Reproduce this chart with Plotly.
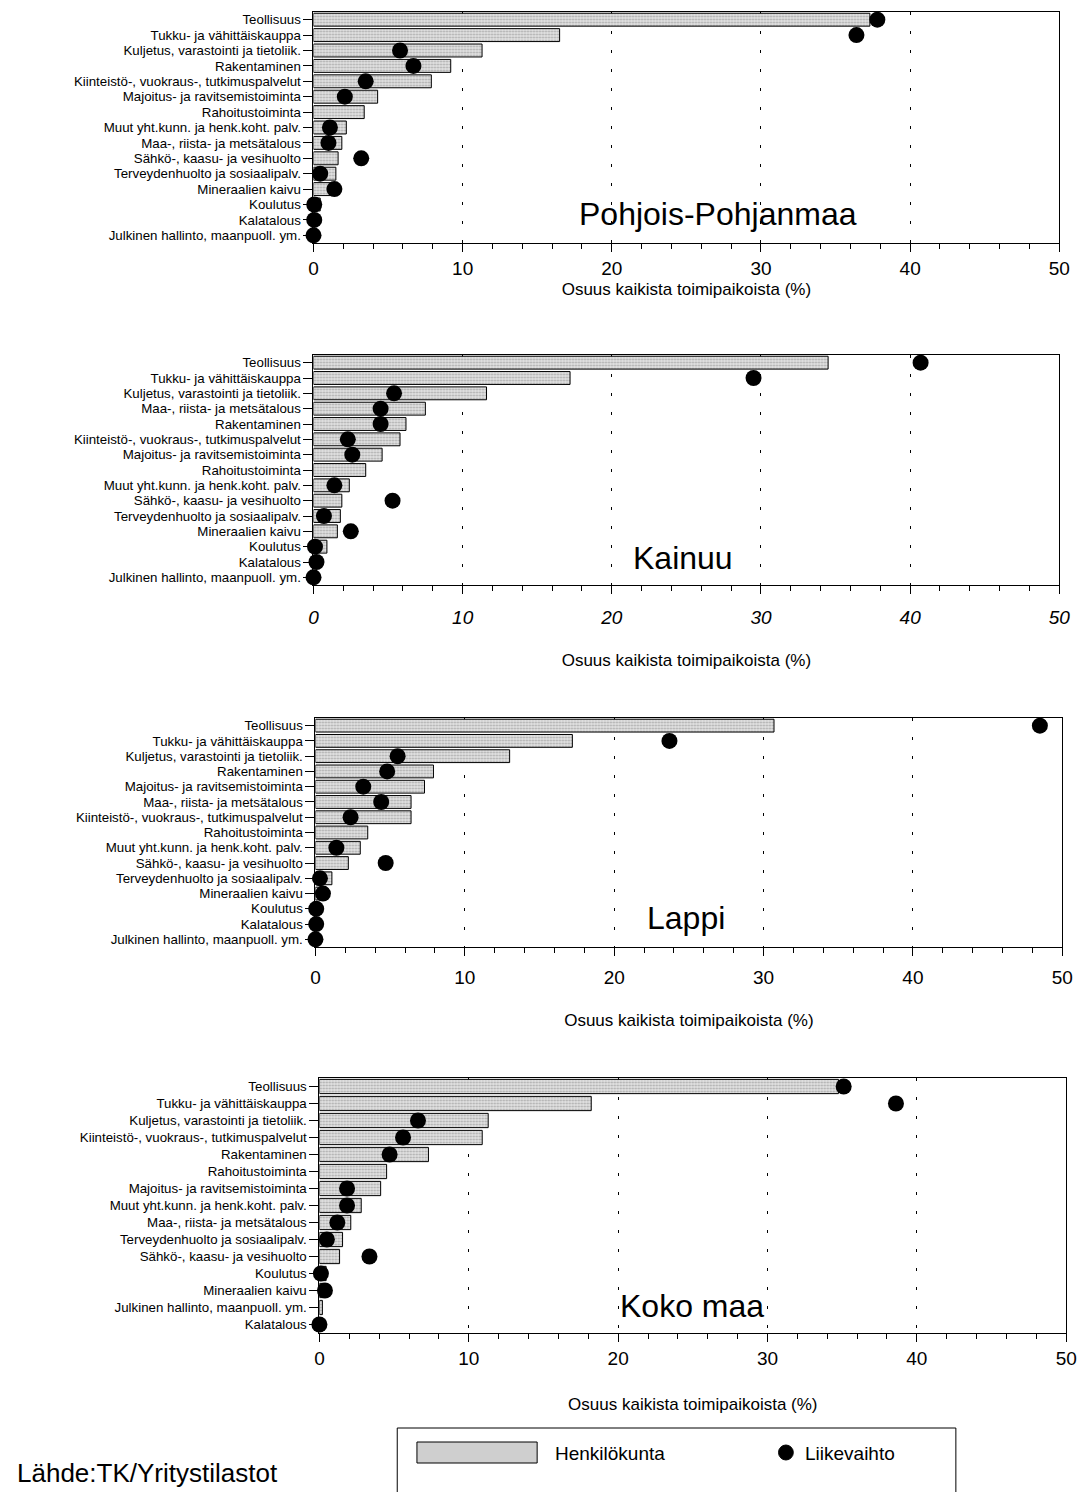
import plotly.graph_objects as go

W, H = 1092, 1492
OFF = 8  # browser body margin around the plot div

# --- data (share of all establishments, %) ---
regions = ["Pohjois-Pohjanmaa", "Kainuu", "Lappi", "Koko maa"]

cats_pp = ["Teollisuus", "Tukku- ja vähittäiskauppa", "Kuljetus, varastointi ja tietoliik.",
           "Rakentaminen", "Kiinteistö-, vuokraus-, tutkimuspalvelut", "Majoitus- ja ravitsemistoiminta",
           "Rahoitustoiminta", "Muut yht.kunn. ja henk.koht. palv.", "Maa-, riista- ja metsätalous",
           "Sähkö-, kaasu- ja vesihuolto", "Terveydenhuolto ja sosiaalipalv.", "Mineraalien kaivu",
           "Koulutus", "Kalatalous", "Julkinen hallinto, maanpuoll. ym."]
henk_pp = [37.3, 16.5, 11.3, 9.2, 7.9, 4.3, 3.4, 2.2, 1.9, 1.65, 1.5, 1.3, 0.45, 0.1, 0.05]
liike_pp = [37.8, 36.4, 5.8, 6.7, 3.5, 2.1, None, 1.1, 1.0, 3.2, 0.45, 1.4, 0.05, 0.05, 0.0]

cats_ka = ["Teollisuus", "Tukku- ja vähittäiskauppa", "Kuljetus, varastointi ja tietoliik.",
           "Maa-, riista- ja metsätalous", "Rakentaminen", "Kiinteistö-, vuokraus-, tutkimuspalvelut",
           "Majoitus- ja ravitsemistoiminta", "Rahoitustoiminta", "Muut yht.kunn. ja henk.koht. palv.",
           "Sähkö-, kaasu- ja vesihuolto", "Terveydenhuolto ja sosiaalipalv.", "Mineraalien kaivu",
           "Koulutus", "Kalatalous", "Julkinen hallinto, maanpuoll. ym."]
henk_ka = [34.5, 17.2, 11.6, 7.5, 6.2, 5.8, 4.6, 3.5, 2.4, 1.9, 1.8, 1.6, 0.9, 0.1, 0.05]
liike_ka = [40.7, 29.5, 5.4, 4.5, 4.5, 2.3, 2.6, None, 1.4, 5.3, 0.7, 2.5, 0.1, 0.2, 0.0]

cats_la = ["Teollisuus", "Tukku- ja vähittäiskauppa", "Kuljetus, varastointi ja tietoliik.",
           "Rakentaminen", "Majoitus- ja ravitsemistoiminta", "Maa-, riista- ja metsätalous",
           "Kiinteistö-, vuokraus-, tutkimuspalvelut", "Rahoitustoiminta", "Muut yht.kunn. ja henk.koht. palv.",
           "Sähkö-, kaasu- ja vesihuolto", "Terveydenhuolto ja sosiaalipalv.", "Mineraalien kaivu",
           "Koulutus", "Kalatalous", "Julkinen hallinto, maanpuoll. ym."]
henk_la = [30.7, 17.2, 13.0, 7.9, 7.3, 6.4, 6.4, 3.5, 3.0, 2.2, 1.1, 0.6, 0.1, 0.05, 0.05]
liike_la = [48.5, 23.7, 5.5, 4.8, 3.2, 4.4, 2.35, None, 1.4, 4.7, 0.3, 0.5, 0.05, 0.05, 0.0]

cats_km = ["Teollisuus", "Tukku- ja vähittäiskauppa", "Kuljetus, varastointi ja tietoliik.",
           "Kiinteistö-, vuokraus-, tutkimuspalvelut", "Rakentaminen", "Rahoitustoiminta",
           "Majoitus- ja ravitsemistoiminta", "Muut yht.kunn. ja henk.koht. palv.", "Maa-, riista- ja metsätalous",
           "Terveydenhuolto ja sosiaalipalv.", "Sähkö-, kaasu- ja vesihuolto", "Koulutus",
           "Mineraalien kaivu", "Julkinen hallinto, maanpuoll. ym.", "Kalatalous"]
henk_km = [34.75, 18.2, 11.3, 10.9, 7.3, 4.5, 4.1, 2.8, 2.1, 1.55, 1.35, 0.45, 0.3, 0.2, 0.05]
liike_km = [35.1, 38.6, 6.6, 5.6, 4.7, None, 1.85, 1.85, 1.2, 0.5, 3.35, 0.1, 0.37, None, 0.0]

x_ticks = [0, 10, 20, 30, 40, 50]
x_title = "Osuus kaikista toimipaikoista (%)"

panels = [(cats_pp, henk_pp, liike_pp), (cats_ka, henk_ka, liike_ka),
          (cats_la, henk_la, liike_la), (cats_km, henk_km, liike_km)]

# plot-area boxes in page pixels: (left, right, top, bottom)
boxes = [(313, 1070, 12, 243), (313, 1070, 355, 585), (315, 1073, 718, 947), (319, 1077, 1078, 1333)]
name_pos = [(724, 214), (688, 558), (691, 918), (697, 1306)]
label_standoff = [0, 7, 5, 0]
title_standoff = [5, 27, 27, 30]
tick_style = ["normal", "italic", "normal", "normal"]

FW, FH = W - OFF, H - OFF


def fx(px):
    return (px - OFF) / FW


def fy(py):
    return 1 - (py - OFF) / FH


FONT = "Liberation Sans, Arial, sans-serif"

fig = go.Figure()

for i, (cats, henk, liike) in enumerate(panels):
    n = "" if i == 0 else str(i + 1)
    fig.add_trace(go.Bar(
        y=cats, x=henk, orientation="h", width=0.84,
        marker=dict(color="#d6d6d6", line=dict(color="black", width=1),
                    pattern=dict(shape=".", fgcolor="#707070", bgcolor="#e2e2e2", size=3, solidity=0.35)),
        xaxis="x" + n, yaxis="y" + n, showlegend=False,
    ))
    fig.add_trace(go.Scatter(
        y=cats, x=liike, mode="markers",
        marker=dict(color="black", size=16),
        cliponaxis=False, xaxis="x" + n, yaxis="y" + n, showlegend=False,
    ))

    l, r, t, b = boxes[i]
    fig.update_layout(**{
        "xaxis" + n: dict(
            domain=[fx(l), fx(r)], anchor="y" + n, range=[0, 50],
            tickvals=x_ticks, ticks="outside", ticklen=8, tickwidth=1, tickcolor="black",
            ticklabelstandoff=label_standoff[i],
            minor=dict(dtick=2, ticks="outside", ticklen=5, tickcolor="black", showgrid=False),
            showline=True, linecolor="black", linewidth=1, mirror=True,
            showgrid=True, gridcolor="black", gridwidth=1, griddash="3px,16px",
            zeroline=False,
            tickfont=dict(size=19, family=FONT, color="black", style=tick_style[i]),
            title=dict(text=x_title, font=dict(size=17, family=FONT, color="black"),
                       standoff=title_standoff[i]),
        ),
        "yaxis" + n: dict(
            domain=[fy(b), fy(t)], anchor="x" + n,
            categoryorder="array", categoryarray=cats,
            range=[len(cats) - 0.5, -0.5],
            tickmode="array", tickvals=cats,
            ticks="outside", ticklen=9, tickcolor="black",
            showline=True, linecolor="black", linewidth=1, mirror=True,
            showgrid=False, tickfont=dict(size=13.3, family=FONT, color="black"),
        ),
    })
    fig.add_annotation(x=fx(name_pos[i][0]), y=fy(name_pos[i][1]), xref="paper", yref="paper",
                       xanchor="center", yanchor="middle",
                       text=regions[i], showarrow=False,
                       font=dict(size=32, family=FONT, color="black"))

# hand-drawn legend box (as in the source figure)
fig.add_shape(type="rect", xref="paper", yref="paper",
              x0=fx(398), x1=fx(965), y0=fy(1500), y1=fy(1428),
              line=dict(color="black", width=1), fillcolor="white")
fig.add_shape(type="rect", xref="paper", yref="paper",
              x0=fx(418), x1=fx(540), y0=fy(1463), y1=fy(1442),
              line=dict(color="black", width=1), fillcolor="#cfcfcf")
fig.add_shape(type="circle", xref="paper", yref="paper",
              x0=fx(785), x1=fx(800), y0=fy(1460), y1=fy(1445),
              line=dict(color="black", width=1), fillcolor="black")
fig.add_annotation(x=fx(556), y=fy(1453), xref="paper", yref="paper", xanchor="left", yanchor="middle",
                   text="Henkilökunta", showarrow=False,
                   font=dict(size=19, family=FONT, color="black"))
fig.add_annotation(x=fx(810), y=fy(1453), xref="paper", yref="paper", xanchor="left", yanchor="middle",
                   text="Liikevaihto", showarrow=False,
                   font=dict(size=19, family=FONT, color="black"))
fig.add_annotation(x=fx(10), y=fy(1473), xref="paper", yref="paper", xanchor="left", yanchor="middle",
                   text="Lähde:TK/Yritystilastot", showarrow=False,
                   font=dict(size=26, family=FONT, color="black"))

fig.update_layout(
    width=FW, height=FH,
    margin=dict(l=0, r=0, t=0, b=0),
    paper_bgcolor="white", plot_bgcolor="white",
    barmode="overlay",
)

fig.write_html("out.html")
